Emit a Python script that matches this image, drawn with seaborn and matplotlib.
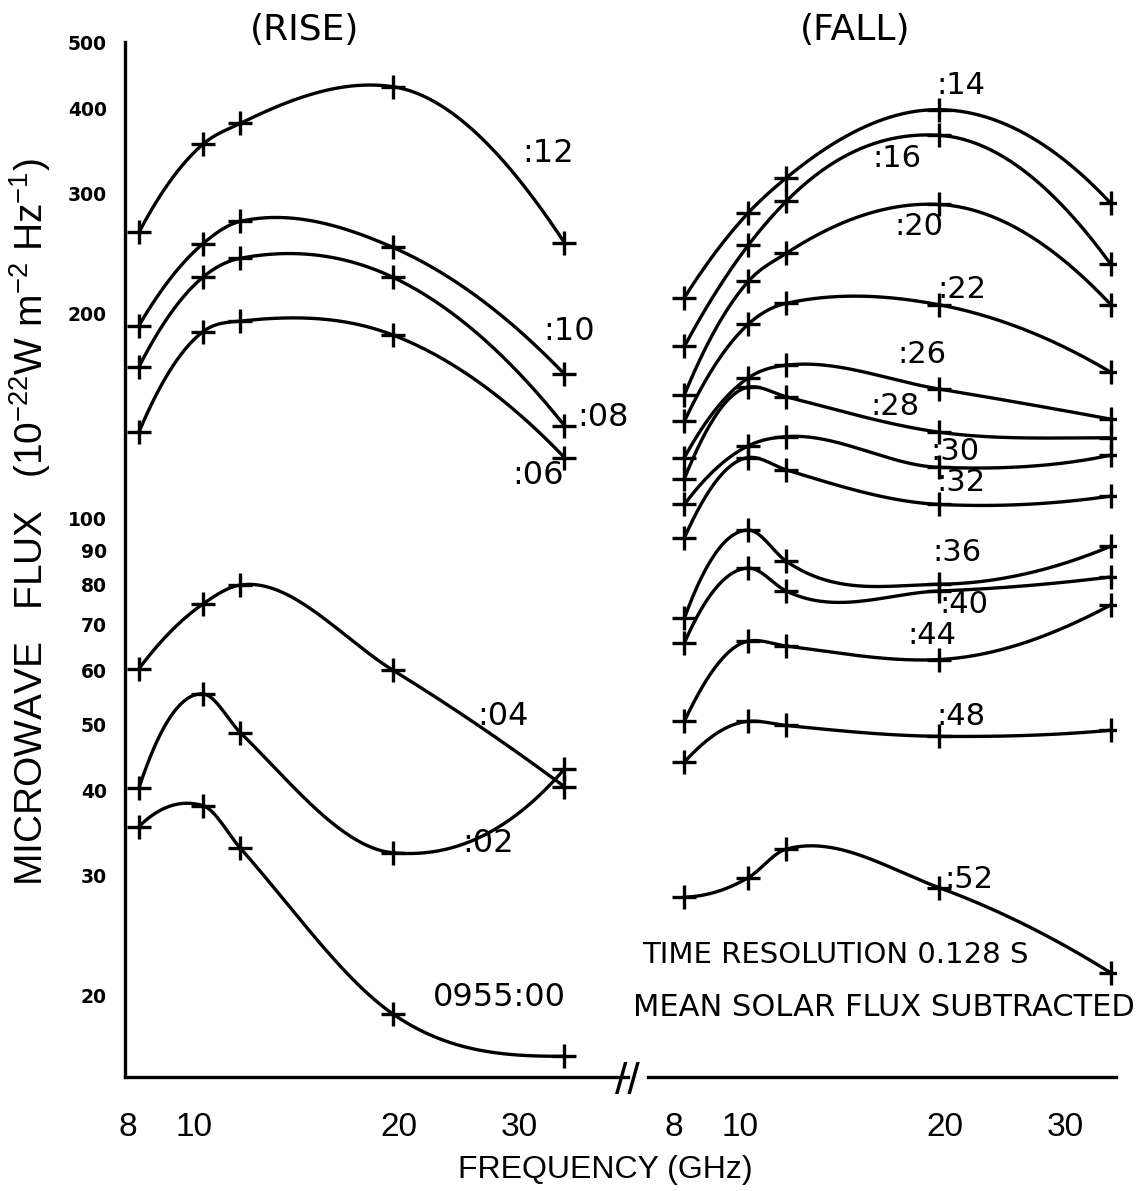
import numpy as np
import pandas as pd
import seaborn as sns
import matplotlib
matplotlib.use("Agg")
import matplotlib.pyplot as plt
import matplotlib.ticker as mticker

# frequencies of the five receivers (GHz)
freq = [8.3, 10.3, 11.7, 19.6, 35.0]

# rise phase spectra (10^-22 W m^-2 Hz^-1)
rise_00 = [35.4, 38.0, 32.9, 18.8, 16.3]
rise_02 = [40.3, 55.4, 48.6, 32.4, 43.0]
rise_04 = [60.3, 75.0, 80.0, 60.0, 40.5]
rise_06 = [134, 188, 195, 186, 123]
rise_08 = [167, 226, 241, 226, 137]
rise_10 = [192, 253, 273, 250, 163]
rise_12 = [263, 354, 380, 430, 254]

# fall phase spectra
fall_14 = [211, 281, 316, 398, 290]
fall_16 = [179, 252, 292, 365, 236]
fall_20 = [152, 223, 245, 289, 206]
fall_22 = [139, 193, 207, 206, 164]
fall_26 = [123, 161, 168, 155, 140]
fall_28 = [114.5, 156, 151, 134, 131.5]
fall_30 = [105, 128, 132, 119, 124]
fall_32 = [93.8, 123, 118, 105, 108]
fall_36 = [71.5, 96.3, 86.7, 80.2, 91.2]
fall_40 = [65.8, 84.7, 78.4, 78.4, 82.2]
fall_44 = [50.5, 66.2, 65.1, 62.2, 74.8]
fall_48 = [44.0, 50.5, 49.8, 48.0, 49.0]
fall_52 = [27.9, 29.8, 32.8, 28.8, 21.6]

rise_series = [rise_00, rise_02, rise_04, rise_06, rise_08, rise_10, rise_12]
fall_series = [fall_14, fall_16, fall_20, fall_22, fall_26, fall_28, fall_30,
               fall_32, fall_36, fall_40, fall_44, fall_48, fall_52]

# curve labels: text, freq, flux
rise_labels = [("0955:00", 28.1, 19.9), (":02", 27.0, 33.4), (":04", 28.4, 51.3),
               (":06", 32.0, 115.7), (":08", 39.9, 141), (":10", 35.6, 188),
               (":12", 33.1, 343)]
fall_labels = [(":14", 21.1, 432), (":16", 17.0, 337), (":20", 18.3, 268),
               (":22", 21.2, 217), (":26", 18.5, 174), (":28", 16.9, 146),
               (":30", 20.7, 125.5), (":32", 21.1, 113), (":36", 20.8, 89.4),
               (":40", 21.3, 75), (":44", 19.1, 67.5), (":48", 21.1, 51.3),
               (":52", 21.7, 29.6)]

yticks = [20, 30, 40, 50, 60, 70, 80, 90, 100, 200, 300, 400, 500]


def smooth(x, y, n=200):
    # hermite curve through the points in log-log space, soft at turning points
    lx, ly = np.log10(x), np.log10(y)
    m = len(lx)
    h = np.diff(lx)
    s = np.diff(ly) / h
    d = np.zeros(m)
    for i in range(1, m - 1):
        d[i] = (h[i] * s[i - 1] + h[i - 1] * s[i]) / (h[i - 1] + h[i])
        if s[i - 1] * s[i] < 0:
            d[i] *= 0.5
    d[0] = ((2 * h[0] + h[1]) * s[0] - h[0] * s[1]) / (h[0] + h[1])
    if d[0] * s[0] < 0:
        d[0] = 0
    elif s[0] * s[1] < 0 and abs(d[0]) > 3 * abs(s[0]):
        d[0] = 3 * s[0]
    d[-1] = ((2 * h[-1] + h[-2]) * s[-1] - h[-1] * s[-2]) / (h[-1] + h[-2])
    if d[-1] * s[-1] < 0:
        d[-1] = 0
    elif s[-1] * s[-2] < 0 and abs(d[-1]) > 3 * abs(s[-1]):
        d[-1] = 3 * s[-1]
    xs = np.linspace(lx[0], lx[-1], n)
    k = np.clip(np.searchsorted(lx, xs) - 1, 0, m - 2)
    t = (xs - lx[k]) / h[k]
    h00 = 2 * t ** 3 - 3 * t ** 2 + 1
    h10 = t ** 3 - 2 * t ** 2 + t
    h01 = -2 * t ** 3 + 3 * t ** 2
    h11 = t ** 3 - t ** 2
    ys = h00 * ly[k] + h10 * h[k] * d[k] + h01 * ly[k + 1] + h11 * h[k] * d[k + 1]
    return 10 ** xs, 10 ** ys


sns.set_theme(style="white")
plt.rcParams["font.family"] = ["Liberation Sans", "DejaVu Sans"]
plt.rcParams["mathtext.default"] = "regular"
plt.rcParams["text.color"] = "black"

fig = plt.figure(figsize=(11.44, 11.91), dpi=100)
ax1 = fig.add_axes([0.1093, 0.0957, 0.4397, 0.869])
ax2 = fig.add_axes([0.5664, 0.0957, 0.4091, 0.869])

for ax, series in ((ax1, rise_series), (ax2, fall_series)):
    ax.set_xscale("log")
    ax.set_yscale("log")
    for sr in series:
        cx, cy = smooth(freq, sr)
        sns.lineplot(x=cx, y=cy, ax=ax, color="black", lw=2.4,
                     estimator=None, sort=False)
        ax.plot(freq, sr, ls="none", marker="+", ms=17, mew=2.4, color="black")
    ax.set_ylim(15.2, 500)
    for side in ("top", "right"):
        ax.spines[side].set_visible(False)
    ax.spines["bottom"].set_linewidth(2.4)
    ax.spines["bottom"].set_color("black")
    ax.xaxis.set_minor_locator(mticker.NullLocator())
    ax.yaxis.set_minor_locator(mticker.NullLocator())
    ax.tick_params(axis="x", direction="in", length=9, width=1.6,
                   labelsize=24, pad=25, colors="black")

ax1.set_xlim(7.92, 43.4)
ax2.set_xlim(7.34, 35.6)

ax1.set_xticks([8, 10, 20, 30, 40])
ax1.set_xticklabels(["8", "10", "20", "30", ""])
ax2.set_xticks([8, 10, 20, 30])
ax2.set_xticklabels(["8", "10", "20", "30"])

ax1.spines["left"].set_linewidth(2.4)
ax1.spines["left"].set_color("black")
ax1.set_yticks(yticks)
ax1.set_yticklabels([str(v) for v in yticks], fontweight="bold",
                    family="DejaVu Sans")
ax1.tick_params(axis="y", direction="in", length=11, width=2.2,
                labelsize=13.5, pad=13, colors="black")

ax2.spines["left"].set_visible(False)
ax2.set_yticks([])

for ax in (ax1, ax2):
    ax.set_xlabel("")
    ax.set_ylabel("")

for txt, fx, fy in rise_labels:
    ax1.text(fx, fy, txt, fontsize=23, family="DejaVu Sans",
             ha="center", va="center")
for txt, fx, fy in fall_labels:
    ax2.text(fx, fy, txt, fontsize=22, family="DejaVu Sans",
             ha="center", va="center")

fig.text(305 / 1144, 1 - 30 / 1191, "(RISE)", fontsize=26,
         family="DejaVu Sans", ha="center", va="center")
fig.text(855 / 1144, 1 - 30 / 1191, "(FALL)", fontsize=26,
         family="DejaVu Sans", ha="center", va="center")
fig.text(835 / 1144, 1 - 955 / 1191, "TIME RESOLUTION 0.128 S", fontsize=21,
         family="DejaVu Sans", ha="center", va="center")
fig.text(884 / 1144, 1 - 1007 / 1191, "MEAN SOLAR FLUX SUBTRACTED",
         fontsize=22, family="DejaVu Sans", ha="center", va="center")
fig.text(627 / 1144, 1 - 1082 / 1191, "//", fontsize=32, ha="center",
         va="center")
fig.text(605 / 1144, 1 - 1170 / 1191, "FREQUENCY (GHz)", fontsize=23,
         ha="center", va="center")
fig.text(30 / 1144, 1 - 522 / 1191,
         "MICROWAVE   FLUX   (10$^{-22}$W m$^{-2}$ Hz$^{-1}$)",
         fontsize=28, rotation=90, ha="center", va="center")

fig.savefig("out.png", dpi=100)
